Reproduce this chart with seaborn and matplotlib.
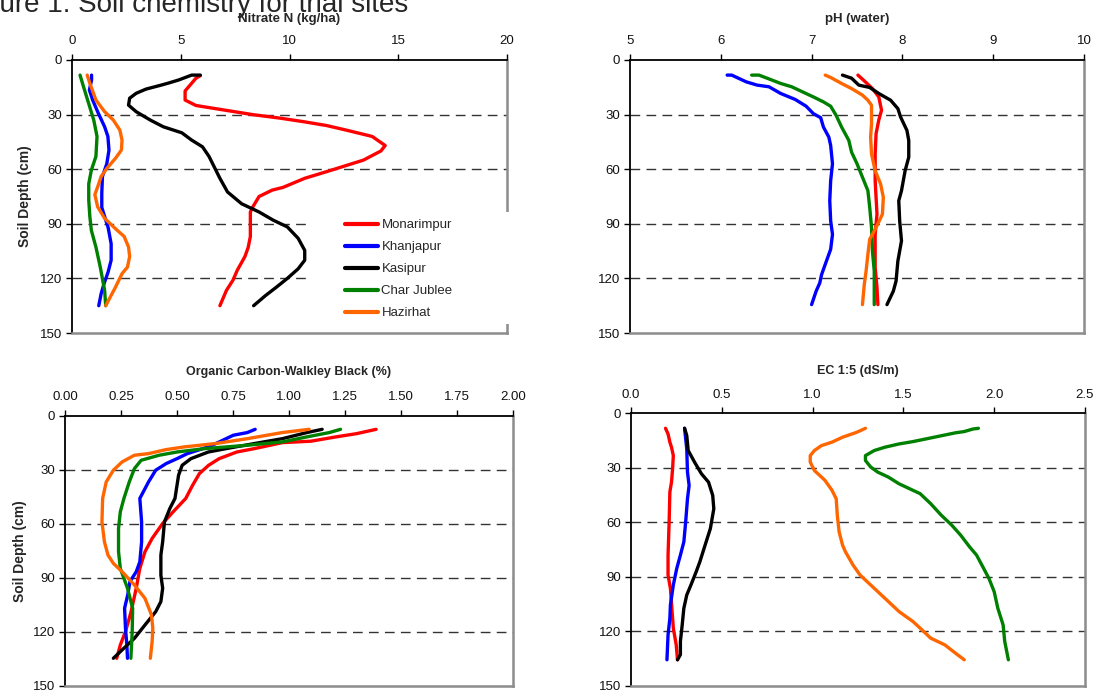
import matplotlib
matplotlib.use("Agg")
import matplotlib.pyplot as plt
import matplotlib.patches as mpatches
import matplotlib.ticker as mticker
import seaborn as sns
import pandas as pd

# ---------------- data ----------------
sites = ["Monarimpur", "Khanjapur", "Kasipur", "Char Jublee", "Hazirhat"]
site_colors = ["#FF0000", "#0000FF", "#000000", "#008000", "#FF6600"]

# Nitrate N (kg/ha)
no3_monarimpur_d = [8.6, 10, 17, 22, 25, 27.5, 30, 32, 34, 36, 38.5, 42, 47, 50, 55, 58, 61, 65, 70, 71.5, 75, 81, 83.5, 90, 97, 103, 108, 115.5, 121, 126.6, 135]
no3_monarimpur_x = [5.9, 5.7, 5.2, 5.2, 5.7, 7.0, 8.3, 9.6, 10.7, 11.7, 12.6, 13.8, 14.4, 14.2, 13.4, 12.6, 11.8, 10.7, 9.7, 9.2, 8.6, 8.3, 8.2, 8.2, 8.2, 8.1, 7.95, 7.6, 7.4, 7.1, 6.8]
no3_khanjapur_d = [8.3, 11, 16.5, 22, 29, 36.7, 42, 49.5, 57, 64, 73, 81, 86, 92, 101, 110, 116.5, 123, 128.4, 135]
no3_khanjapur_x = [0.9, 0.9, 0.8, 0.95, 1.2, 1.5, 1.65, 1.7, 1.6, 1.4, 1.37, 1.37, 1.5, 1.66, 1.8, 1.8, 1.66, 1.47, 1.34, 1.23]
no3_kasipur_d = [8.3, 8.3, 11, 12.8, 13.8, 16, 18.3, 21, 24.8, 28.4, 33, 36.7, 40, 44, 47.7, 53, 57.8, 65, 72.5, 79, 83.5, 88, 91.7, 98, 104.6, 110, 114.7, 120, 124.8, 129.4, 135]
no3_kasipur_x = [5.9, 5.5, 4.9, 4.4, 4.1, 3.4, 2.95, 2.65, 2.6, 2.95, 3.6, 4.2, 5.05, 5.5, 6.0, 6.3, 6.5, 6.8, 7.15, 7.8, 8.6, 9.25, 9.9, 10.4, 10.7, 10.7, 10.4, 9.9, 9.4, 8.9, 8.35]
no3_charjublee_d = [8.3, 14.7, 24, 33, 42, 53, 60.5, 68, 77, 86, 93.6, 102.8, 113.8, 126.6, 135]
no3_charjublee_x = [0.37, 0.53, 0.77, 1.0, 1.15, 1.1, 0.89, 0.77, 0.77, 0.82, 0.89, 1.1, 1.3, 1.5, 1.55]
no3_hazirhat_d = [8.3, 12.8, 22, 28.4, 33, 38.5, 44, 49.5, 54, 59.6, 64, 68, 74, 80.7, 87, 92.7, 97, 102.8, 108, 113.8, 117.4, 124.8, 135]
no3_hazirhat_x = [0.7, 0.82, 1.1, 1.5, 1.9, 2.2, 2.3, 2.27, 2.0, 1.6, 1.34, 1.23, 1.05, 1.18, 1.5, 2.0, 2.4, 2.6, 2.65, 2.55, 2.3, 2.0, 1.55]

# pH (water)
ph_monarimpur_d = [8.3, 11, 15.7, 20.3, 27.6, 33, 40.5, 51.6, 66.3, 84.7, 95.8, 114, 125, 134.4]
ph_monarimpur_x = [7.51, 7.57, 7.67, 7.74, 7.77, 7.74, 7.71, 7.7, 7.7, 7.72, 7.7, 7.7, 7.72, 7.73]
ph_khanjapur_d = [8.3, 8.3, 12, 13.8, 14.7, 18.4, 21.7, 25.4, 29.5, 31.7, 36.8, 42.4, 47, 57, 66.3, 77.3, 88.4, 95.8, 104, 112.3, 117.9, 122.5, 127, 134.4]
ph_khanjapur_x = [6.07, 6.12, 6.28, 6.4, 6.53, 6.66, 6.82, 6.94, 7.02, 7.1, 7.13, 7.19, 7.21, 7.23, 7.21, 7.2, 7.21, 7.23, 7.21, 7.15, 7.11, 7.09, 7.05, 7.0]
ph_kasipur_d = [8.3, 10, 13.8, 15.1, 18.4, 22.1, 26.7, 31.3, 38.7, 44.2, 53.4, 60.8, 71.8, 77.3, 88.4, 99.4, 110.5, 121.5, 127, 134.4]
ph_kasipur_x = [7.34, 7.44, 7.52, 7.64, 7.74, 7.87, 7.95, 7.98, 8.05, 8.07, 8.07, 8.03, 7.99, 7.96, 7.97, 7.99, 7.95, 7.93, 7.9, 7.83]
ph_charjublee_d = [8.3, 8.3, 10, 12.9, 14.7, 17.5, 20.3, 23, 25.4, 30.4, 36.8, 44.2, 50.6, 57, 64.4, 71.8, 81, 92, 105, 116, 134.4]
ph_charjublee_x = [6.34, 6.42, 6.51, 6.66, 6.78, 6.9, 7.02, 7.13, 7.21, 7.27, 7.33, 7.41, 7.44, 7.5, 7.56, 7.62, 7.64, 7.66, 7.67, 7.69, 7.69]
ph_hazirhat_d = [8.3, 9.6, 12.9, 15.7, 19.3, 22.1, 24.9, 35, 42.4, 51.6, 60.8, 68.1, 75.5, 84.7, 92.1, 98.5, 106.8, 116, 123.4, 134.4]
ph_hazirhat_x = [7.15, 7.21, 7.33, 7.44, 7.56, 7.62, 7.66, 7.66, 7.65, 7.66, 7.7, 7.76, 7.79, 7.78, 7.71, 7.64, 7.62, 7.6, 7.58, 7.56]

# Organic Carbon-Walkley Black (%)
oc_monarimpur_d = [7.4, 9.8, 11.6, 14, 14.8, 18.1, 20, 23.7, 27.4, 32, 38.4, 45.8, 53.2, 59.7, 68, 75.4, 84.7, 95.7, 108.7, 119.8, 127.2, 134.6]
oc_monarimpur_x = [1.389, 1.302, 1.21, 1.098, 0.97, 0.846, 0.767, 0.688, 0.641, 0.6, 0.57, 0.539, 0.483, 0.436, 0.389, 0.357, 0.334, 0.318, 0.295, 0.27, 0.247, 0.231]
oc_khanjapur_d = [7.4, 9.2, 10.7, 13.5, 16.3, 19, 20.9, 23.7, 26.4, 30.1, 36.6, 45.8, 58.8, 69.9, 81, 86.5, 92, 99.4, 106.8, 118, 127, 134.6]
oc_khanjapur_x = [0.849, 0.814, 0.751, 0.704, 0.657, 0.594, 0.546, 0.5, 0.452, 0.405, 0.373, 0.334, 0.342, 0.342, 0.334, 0.318, 0.29, 0.28, 0.266, 0.27, 0.276, 0.279]
oc_kasipur_d = [7.4, 9.2, 12.6, 15.3, 18.1, 20, 23.7, 27.4, 32.9, 45.8, 51.4, 58.8, 69.9, 77.3, 88.4, 95.7, 103.1, 108.7, 116.1, 123.5, 129, 134.6]
oc_kasipur_x = [1.148, 1.08, 0.97, 0.846, 0.72, 0.64, 0.562, 0.523, 0.507, 0.491, 0.468, 0.444, 0.436, 0.428, 0.428, 0.436, 0.428, 0.405, 0.357, 0.31, 0.263, 0.216]
oc_charjublee_d = [7.4, 9.2, 11.6, 14.4, 16.3, 18.1, 20, 21.8, 24.6, 29.2, 36.6, 45.8, 53.2, 62.5, 75.4, 84.7, 95.7, 106.8, 119.8, 134.6]
oc_charjublee_x = [1.23, 1.18, 1.08, 0.97, 0.81, 0.625, 0.5, 0.42, 0.34, 0.31, 0.287, 0.263, 0.247, 0.239, 0.239, 0.247, 0.279, 0.302, 0.3, 0.294]
oc_hazirhat_d = [7.4, 9.2, 12.6, 15.3, 17.2, 18.7, 20.9, 21.8, 25.5, 30.1, 36.6, 45.8, 58.8, 69.9, 77.3, 81.9, 86.5, 93.9, 101.3, 110.5, 117.9, 125.3, 134.6]
oc_hazirhat_x = [1.09, 0.97, 0.814, 0.672, 0.53, 0.45, 0.373, 0.31, 0.255, 0.216, 0.184, 0.168, 0.165, 0.176, 0.192, 0.216, 0.255, 0.31, 0.357, 0.386, 0.392, 0.389, 0.381]

# EC 1:5 (dS/m)
ec_monarimpur_d = [8.4, 11.5, 16, 18.8, 23.4, 30.7, 38, 43.4, 59.9, 78.1, 89.1, 96.4, 107.3, 118.2, 127.4, 135.6]
ec_monarimpur_x = [0.19, 0.204, 0.214, 0.223, 0.233, 0.229, 0.223, 0.214, 0.21, 0.204, 0.204, 0.217, 0.225, 0.233, 0.249, 0.256]
ec_khanjapur_d = [8.4, 19.7, 32.5, 39.8, 47.1, 59.9, 70.8, 78.1, 85.4, 94.5, 105.5, 112.8, 121.9, 135.6]
ec_khanjapur_x = [0.295, 0.307, 0.311, 0.32, 0.311, 0.301, 0.291, 0.272, 0.252, 0.233, 0.217, 0.214, 0.204, 0.198]
ec_kasipur_d = [8.4, 12.4, 20.6, 27, 33.4, 38, 45.3, 52.6, 63.5, 72.6, 81.8, 87.2, 94.5, 100, 107.3, 116.4, 125.5, 132.8, 135.6]
ec_kasipur_x = [0.295, 0.307, 0.315, 0.35, 0.388, 0.427, 0.45, 0.456, 0.437, 0.408, 0.379, 0.359, 0.33, 0.307, 0.291, 0.282, 0.272, 0.272, 0.256]
ec_charjublee_d = [8.4, 8.8, 10.2, 10.9, 13.3, 15.7, 17, 18.8, 20.6, 23.4, 26.1, 29.7, 32.5, 35.2, 38.9, 42.5, 44.3, 49.8, 56.2, 61.7, 67.2, 73.5, 78.1, 85.4, 90.9, 98.2, 107.3, 116.4, 125.5, 135.6]
ec_charjublee_x = [1.913, 1.883, 1.835, 1.786, 1.67, 1.553, 1.476, 1.398, 1.34, 1.291, 1.291, 1.32, 1.359, 1.417, 1.476, 1.553, 1.592, 1.65, 1.709, 1.767, 1.816, 1.864, 1.903, 1.942, 1.971, 2.0, 2.02, 2.049, 2.058, 2.078]
ec_hazirhat_d = [8.4, 10.6, 13.3, 16, 17.9, 20.6, 23.4, 27, 31.6, 37, 42.5, 47.1, 56.2, 65.3, 72.6, 76.3, 83.6, 89.1, 94.5, 101.8, 109.1, 114.6, 118.2, 123.7, 127.4, 131.9, 135.6]
ec_hazirhat_x = [1.291, 1.243, 1.165, 1.107, 1.049, 1.01, 0.987, 0.987, 1.01, 1.068, 1.107, 1.13, 1.136, 1.146, 1.165, 1.181, 1.223, 1.262, 1.32, 1.398, 1.476, 1.553, 1.592, 1.65, 1.728, 1.786, 1.835]

panel_titles = ["Nitrate N (kg/ha)", "pH (water)", "Organic Carbon-Walkley Black (%)", "EC 1:5 (dS/m)"]
panel_xlims = [(0, 20), (5, 10), (0, 2), (0, 2.5)]
panel_xticks = [[0, 5, 10, 15, 20], [5, 6, 7, 8, 9, 10],
                [0, 0.25, 0.5, 0.75, 1.0, 1.25, 1.5, 1.75, 2.0],
                [0, 0.5, 1.0, 1.5, 2.0, 2.5]]
panel_xfmt = ["%d", "%d", "%.2f", "%.1f"]
depth_ticks = [0, 30, 60, 90, 120, 150]
y_label = "Soil Depth (cm)"
fig_title = "Figure 1: Soil chemistry for trial sites"

panel_series = [
    [(no3_monarimpur_d, no3_monarimpur_x), (no3_khanjapur_d, no3_khanjapur_x), (no3_kasipur_d, no3_kasipur_x),
     (no3_charjublee_d, no3_charjublee_x), (no3_hazirhat_d, no3_hazirhat_x)],
    [(ph_monarimpur_d, ph_monarimpur_x), (ph_khanjapur_d, ph_khanjapur_x), (ph_kasipur_d, ph_kasipur_x),
     (ph_charjublee_d, ph_charjublee_x), (ph_hazirhat_d, ph_hazirhat_x)],
    [(oc_monarimpur_d, oc_monarimpur_x), (oc_khanjapur_d, oc_khanjapur_x), (oc_kasipur_d, oc_kasipur_x),
     (oc_charjublee_d, oc_charjublee_x), (oc_hazirhat_d, oc_hazirhat_x)],
    [(ec_monarimpur_d, ec_monarimpur_x), (ec_khanjapur_d, ec_khanjapur_x), (ec_kasipur_d, ec_kasipur_x),
     (ec_charjublee_d, ec_charjublee_x), (ec_hazirhat_d, ec_hazirhat_x)],
]

# ---------------- style ----------------
sns.set_theme(style="white")
plt.rcParams["font.family"] = ["Liberation Sans", "DejaVu Sans"]
plt.rcParams["axes.unicode_minus"] = False

W, H = 1101, 691
fig = plt.figure(figsize=(W / 100, H / 100), dpi=100)

# axes boxes in pixels: left, top, right, bottom
boxes = [(72, 60, 507, 333), (630, 60, 1084, 333), (65, 416, 513, 686), (631, 413, 1085, 686)]
title_offsets = [41, 41, 44, 42]
title_sizes = [9.5, 9.5, 9, 9]
ylabel_offsets = [40, 40, 38, 38]

palette = dict(zip(sites, site_colors))

for i, (box, series) in enumerate(zip(boxes, panel_series)):
    l, t, r, b = box
    ax = fig.add_axes([l / W, 1 - b / H, (r - l) / W, (b - t) / H])
    rows = []
    for site, (d, x) in zip(sites, series):
        for dd, xx in zip(d, x):
            rows.append({"site": site, "depth": dd, "value": xx})
    df = pd.DataFrame(rows)
    sns.lineplot(data=df, x="value", y="depth", hue="site", hue_order=sites, palette=palette,
                 sort=False, estimator=None, orient="y", linewidth=2.4, ax=ax,
                 legend=(i == 0), zorder=2)
    for ln in ax.get_lines():
        ln.set_solid_capstyle("round")
        ln.set_solid_joinstyle("round")

    ax.set_xlim(*panel_xlims[i])
    ax.set_ylim(150, 0)
    ax.set_xticks(panel_xticks[i])
    ax.xaxis.set_major_formatter(mticker.FormatStrFormatter(panel_xfmt[i]))
    ax.set_yticks(depth_ticks)
    ax.xaxis.set_ticks_position("top")
    ax.xaxis.set_label_position("top")
    ax.tick_params(axis="x", direction="out", length=4, width=1, color="black", pad=5,
                   labelsize=9.5, labelcolor="#111111", top=True, bottom=False)
    ax.tick_params(axis="y", direction="out", length=4, width=1, color="black", pad=3,
                   labelsize=9.5, labelcolor="#111111", left=True)
    ax.set_xlabel("")
    if i in (0, 2):
        ax.set_ylabel(y_label, fontsize=10, fontweight="bold", labelpad=0)
        ax.yaxis.set_label_coords(-ylabel_offsets[i] / (r - l), 0.5)
    else:
        ax.set_ylabel("")

    ax.grid(False)
    for gy in depth_ticks[1:-1]:
        ax.axhline(gy, color="#333333", linewidth=1.0, linestyle=(0, (7, 4.5)), zorder=0.8)

    ax.spines["top"].set_color("black")
    ax.spines["left"].set_color("black")
    ax.spines["top"].set_linewidth(1.3)
    ax.spines["left"].set_linewidth(1.3)
    ax.spines["right"].set_color("#8c8c8c")
    ax.spines["bottom"].set_color("#8c8c8c")
    ax.spines["right"].set_linewidth(1.8)
    ax.spines["bottom"].set_linewidth(1.8)

    ax.text(0.5, 1 + title_offsets[i] / (b - t), panel_titles[i], transform=ax.transAxes,
            ha="center", va="center", fontsize=title_sizes[i], fontweight="bold")

    if i == 0:
        handles, labels = ax.get_legend_handles_labels()
        for h in handles:
            h.set_linewidth(3)
        cover = mpatches.Rectangle((0.547, 0.033), 0.47, 0.411, transform=ax.transAxes,
                                   facecolor="white", edgecolor="none", zorder=3, clip_on=False)
        ax.add_patch(cover)
        leg = ax.legend(handles, labels, loc="center left", bbox_to_anchor=(0.628, 0.234),
                        frameon=False, fontsize=9.5, handlelength=2.45, handletextpad=0.3,
                        labelspacing=0.74, borderpad=0, borderaxespad=0)
        leg.set_zorder(4)

fig.text(-39 / W, 1 - 12 / H, fig_title, fontsize=20, ha="left", va="baseline")

fig.savefig("out.png", dpi=100)
